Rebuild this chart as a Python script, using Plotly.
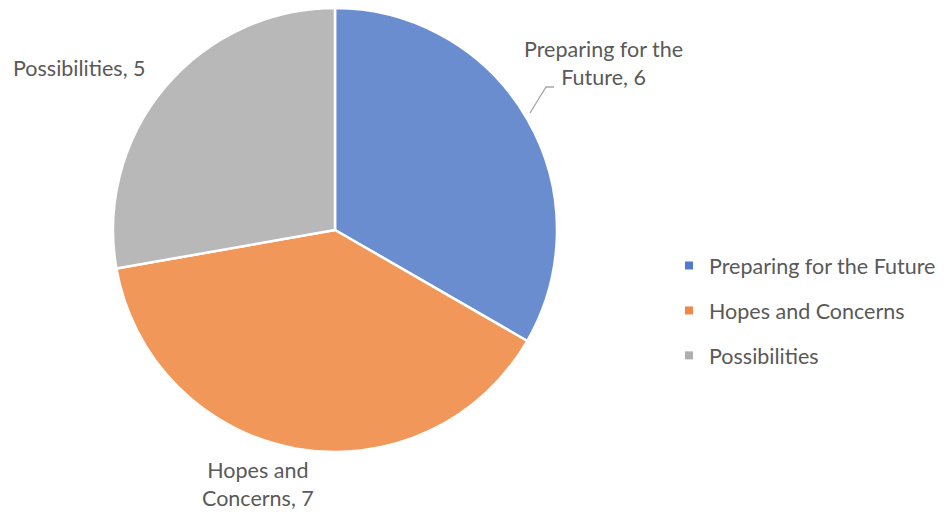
import plotly.graph_objects as go

labels = ["Preparing for the Future", "Hopes and Concerns", "Possibilities"]
values = [6, 7, 5]
colors = ["#6A8DD0", "#F1975A", "#B8B8B8"]
legend_colors = ["#4F7BC9", "#EF8845", "#AEAEAE"]
label_lines = [["Preparing for the", "Future, {v}"], ["Hopes and", "Concerns, {v}"], ["Possibilities, {v}"]]

W, H = 948, 512
cx, cy, r = 335, 230, 222

fig = go.Figure()
fig.add_trace(go.Pie(
    labels=labels, values=values, sort=False, direction="clockwise",
    marker=dict(colors=colors, line=dict(color="white", width=2.5)),
    textinfo="none", hoverinfo="label+value", showlegend=False,
    domain=dict(x=[(cx - r) / W, (cx + r) / W], y=[(H - cy - r) / H, (H - cy + r) / H]),
))

for lab, col in zip(labels, legend_colors):
    fig.add_trace(go.Scatter(
        x=[None], y=[None], mode="markers", name=lab, legendgroup=lab,
        marker=dict(symbol="square", size=8, color=col),
    ))

font = dict(family="Lato, Carlito, sans-serif", size=21.5, color="#595959")
label_pos = [(603, 63, "center"), (258, 484, "center"), (79, 68, "center")]
for lines, v, (px, py, al) in zip(label_lines, values, label_pos):
    txt = "<br>".join(l.format(v=v) for l in lines)
    fig.add_annotation(x=px / W, y=1 - py / H, xref="paper", yref="paper", text=txt,
                       showarrow=False, font=font, align=al, xanchor="center", yanchor="middle")

# leader line for first label
fig.add_shape(type="path", xref="paper", yref="paper",
              path=f"M {530/W},{1-113/H} L {546/W},{1-87/H} L {554/W},{1-87/H}",
              line=dict(color="#A6A6A6", width=1.3))

fig.update_layout(
    width=W, height=H, margin=dict(l=0, r=0, t=0, b=0),
    paper_bgcolor="white", plot_bgcolor="white",
    xaxis=dict(visible=False), yaxis=dict(visible=False),
    legend=dict(x=669 / W, y=1 - 245 / H, xanchor="left", yanchor="top",
                font=font, tracegroupgap=14, itemwidth=30, bgcolor="rgba(0,0,0,0)"),
)
fig.write_html("out.html", config={"displayModeBar": False},
               post_script="document.body.style.margin='0';document.body.style.overflow='hidden';")
